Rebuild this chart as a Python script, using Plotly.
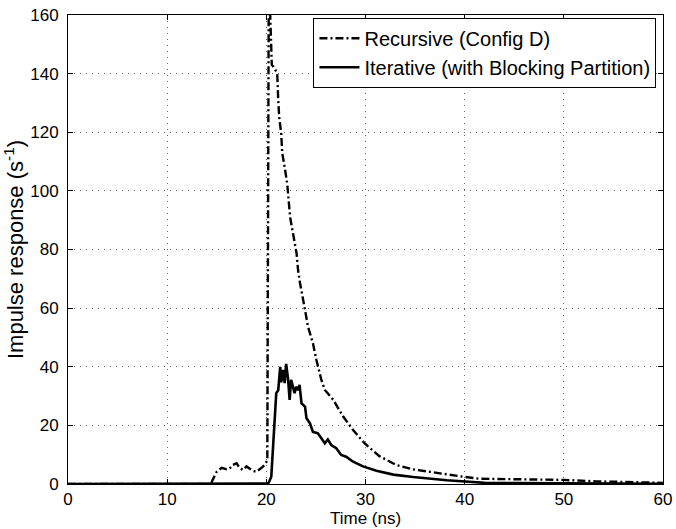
import plotly.graph_objects as go

# Recursive (Config D) - dash-dot series
rec_t = [0, 14.4, 14.6, 15.0, 15.5, 16.0, 16.3, 16.6, 17.0, 17.3, 17.65, 18.0, 18.3, 18.6,
         19.0, 19.3, 19.66, 19.9, 20.1, 20.25, 20.45, 20.55, 20.8, 21.1, 21.2, 21.3, 21.5,
         21.6, 21.85, 22.1, 22.4, 22.75, 23.05, 23.2, 23.4, 23.9, 24.2, 24.7, 25.05, 25.55,
         25.9, 26.75, 27.75, 28.75, 29.9, 31.4, 33.1, 34.8, 37.3, 39.8, 41.5, 44.9, 47.5,
         49.9, 53.3, 56.0, 58.3, 60.0]
rec_v = [0, 0, 1.5, 4.2, 5.5, 5.0, 5.3, 6.5, 7.1, 5.5, 4.8, 6.0, 5.3, 4.5,
         4.2, 5.0, 5.9, 7.0, 8.0, 175, 155, 143, 142, 140, 131, 125, 119.6,
         113, 108, 102.6, 91, 84, 78.7, 73, 68.5, 59.4, 53.7, 48, 42.3, 35.5,
         32.1, 28.7, 23, 18.4, 13.9, 9.5, 6.5, 5.0, 3.65, 2.5, 1.8, 1.7, 1.6,
         1.4, 0.9, 0.6, 0.45, 0.4]

# Iterative (with Blocking Partition) - solid series
it_t = [0, 20.2, 20.5, 20.7, 20.85, 21.0, 21.2, 21.3, 21.4, 21.5, 21.7, 21.85, 22.0, 22.2,
        22.35, 22.5, 22.7, 22.85, 23.0, 23.2, 23.35, 23.55, 23.9, 24.05, 24.4, 24.7, 25.2,
        25.55, 25.9, 26.2, 26.55, 27.05, 27.55, 28.05, 28.75, 29.75, 31.1, 32.8, 34.8,
        38.2, 40.0, 42.0, 45.0, 50.0, 55.0, 60.0]
it_v = [0, 0.2, 2.5, 15, 24, 31, 32, 37.8, 40, 34.7, 38.9, 34.4, 41, 35.5,
        28.7, 35.5, 32.6, 31, 33.2, 32, 33.8, 27.5, 26.4, 22.4, 20.7, 17.8, 17.3,
        15.6, 13.9, 15.2, 13.3, 12.2, 9.9, 9.3, 7.6, 6.0, 4.5, 3.2, 2.4,
        1.3, 0.8, 0.4, 0.3, 0.2, 0.15, 0.1]

x_ticks = [0, 10, 20, 30, 40, 50, 60]
y_ticks = [0, 20, 40, 60, 80, 100, 120, 140, 160]
x_title = "Time (ns)"
y_title = "Impulse response (s<sup>-1</sup>)"

FONT = "Liberation Sans, Arial, Helvetica, sans-serif"

fig = go.Figure()
fig.add_trace(go.Scatter(x=rec_t, y=rec_v, mode="lines", name="Recursive (Config D)",
                         line=dict(color="black", width=2.4, dash="8px,3px,2px,3px")))
fig.add_trace(go.Scatter(x=it_t, y=it_v, mode="lines",
                         name="Iterative (with Blocking Partition)",
                         line=dict(color="black", width=2.6)))

axis_common = dict(showline=True, linecolor="black", linewidth=1, mirror="ticks",
                   ticks="inside", ticklen=5, tickcolor="black",
                   showgrid=True, gridcolor="#666666", griddash="1px,5px", gridwidth=1,
                   zeroline=False, automargin=False, ticklabeloverflow="allow",
                   tickfont=dict(family=FONT, size=17, color="black"))

fig.update_layout(
    width=676, height=529,
    margin=dict(l=68, r=13, t=15, b=45),
    plot_bgcolor="white", paper_bgcolor="white",
    font=dict(family=FONT, size=17, color="black"),
    xaxis=dict(range=[0, 60], tickvals=x_ticks, **axis_common),
    yaxis=dict(range=[0, 160], tickvals=y_ticks, ticklabelstandoff=5,
               title=dict(text=y_title, standoff=5,
                          font=dict(family=FONT, size=22)),
               **axis_common),
    legend=dict(x=0.989, y=0.994, xanchor="right", yanchor="top",
                bgcolor="white", bordercolor="black", borderwidth=1,
                font=dict(family=FONT, size=20), tracegroupgap=0,
                itemwidth=40),
    showlegend=True,
)

fig.add_annotation(text=x_title, xref="paper", yref="paper", x=0.5, y=0,
                   xanchor="center", yanchor="bottom", yshift=-46, showarrow=False,
                   font=dict(family=FONT, size=17, color="black"))

fig.write_html("out.html", config={"displayModeBar": False},
               post_script="document.body.style.margin='0';document.body.style.padding='0';")
